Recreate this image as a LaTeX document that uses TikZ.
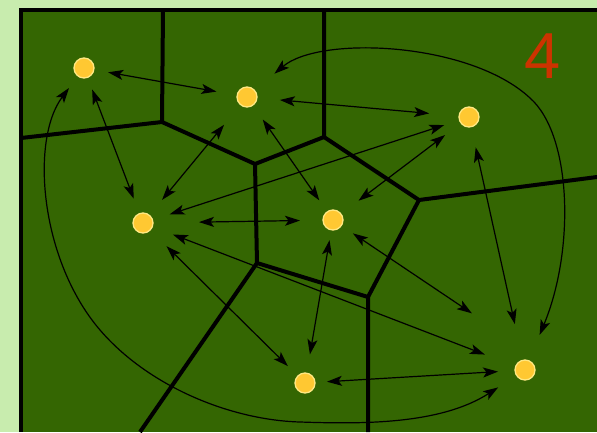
\documentclass[tikz,border=0pt]{standalone}
\usepackage{fontspec}
\usepackage{tikz}
\usetikzlibrary{arrows.meta,calc}
\newfontfamily\numfont{Liberation Sans}
\definecolor{pagemint}{RGB}{200,236,174}
\definecolor{field}{RGB}{52,102,2}
\definecolor{siteyellow}{RGB}{255,200,50}
\definecolor{siterim}{RGB}{255,232,130}
\definecolor{numred}{RGB}{204,51,0}
\tikzset{
  >={Stealth[length=15pt,width=10pt,inset=3.5pt]},
  link/.style={<->, line width=1.2pt, draw=black},
  cell/.style={line width=4pt, draw=black},
  site/.style={
    circle,
    fill=siteyellow,
    draw=siterim,
    line width=1.3pt,
    minimum size=20pt,
    inner sep=0pt,
    outer sep=0pt
  },
  countlabel/.style={font=\numfont\fontsize{65}{65}\selectfont, text=numred, anchor=base, inner sep=0pt}
}

\begin{document}
\begin{tikzpicture}[x=1pt,y=-1pt]
  \useasboundingbox (0,0) rectangle (597,432);
  \fill[pagemint] (0,0) rectangle (597,432);
  \fill[field] (21,10) rectangle (597,432);
  \draw[line width=3.5pt] (21,432) -- (21,10) -- (597,10);

  \draw[cell] (163,10) -- (162,122);
  \draw[cell] (21,138) -- (162,122) -- (255,164) -- (324,137) -- (324,10);
  \draw[cell] (255,164) -- (257,263) -- (140,432);
  \draw[cell] (324,137) -- (419,200) -- (597,177);
  \draw[cell] (419,200) -- (368,297) -- (368,432);
  \draw[cell] (257,263) -- (368,297);

  \node[site] (a) at (84,68) {};
  \node[site] (b) at (247,97) {};
  \node[site] (c) at (469,117) {};
  \node[site] (d) at (143,223) {};
  \node[site] (e) at (333,220) {};
  \node[site] (f) at (305,383) {};
  \node[site] (g) at (525,370) {};

  \draw[link, shorten <=14.5pt, shorten >=21pt] (a) -- (b);
  \draw[link, shorten <=13pt, shorten >=16pt] (a) -- (d);
  \draw[link, shorten <=23pt, shorten >=30pt] (b) -- (c);
  \draw[link, shorten <=26pt, shorten >=20pt] (b) -- (d);
  \draw[link, shorten <=17.5pt, shorten >=14pt] (b) -- (e);
  \draw[link, shorten <=18pt, shorten >=16pt] (d) -- (c);
  \draw[link, shorten <=22pt, shorten >=20pt] (e) -- (c);
  \draw[link, shorten <=21pt, shorten >=37pt] (c) -- (g);
  \draw[link, shorten <=46pt, shorten >=23pt] (d) -- (e);
  \draw[link, shorten <=22pt, shorten >=33pt] (d) -- (g);
  \draw[link, shorten <=23pt, shorten >=14pt] (d) -- (f);
  \draw[link, shorten <=14pt, shorten >=64pt] (e) -- ($(g)+(0,-21)$);
  \draw[link, shorten <=10.5pt, shorten >=19pt] (e) -- (f);
  \draw[link, shorten <=12pt, shorten >=17pt] (f) -- (g);
  \draw[link, shorten <=26pt, shorten >=28pt]
    (b) .. controls (320,35) and (470,42) .. (530,98)
        .. controls (572,135) and (575,250) .. (g);
  \draw[link, shorten <=15pt, shorten >=22pt]
    (a) .. controls (30,140) and (40,260) .. (100,330)
        .. controls (148,386) and (230,420) .. (300,422)
        .. controls (360,424) and (440,425) .. (g);

  \node[countlabel] (count) at (543,78) {4};
\end{tikzpicture}
\end{document}
